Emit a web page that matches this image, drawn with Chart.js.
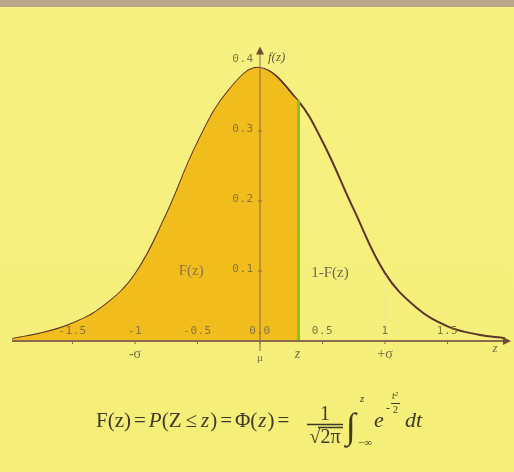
<!DOCTYPE html>
<html>
<head>
<meta charset="utf-8">
<script src="https://cdn.jsdelivr.net/npm/chart.js@4"></script>
<style>
  html, body { margin: 0; padding: 0; }
  body {
    width: 514px; height: 472px; overflow: hidden;
    background: linear-gradient(to bottom, #b8a78c 0px, #b8a78c 7px, #f7f182 7px, #f5ee78 100%);
  }
  #wrap { position: relative; width: 514px; height: 472px; }
</style>
</head>
<body>
<div id="wrap"><canvas id="grafico" width="514" height="472"></canvas></div>
<script>
// Curva (z, f(z))
const zValues = [-1.98, -1.75, -1.5, -1.25, -1, -0.75, -0.5, -0.25, 0, 0.3, 0.5, 0.75, 1, 1.25, 1.5, 1.75, 1.96];
const density = [0.003, 0.011, 0.025, 0.050, 0.095, 0.180, 0.283, 0.358, 0.390, 0.344, 0.285, 0.188, 0.097, 0.048, 0.021, 0.009, 0.004];
const zCut = 0.3;

// Etiquetas de los ejes
const xTickValues = [-1.5, -1, -0.5, 0, 0.5, 1, 1.5];
const xTickLabels = ['-1.5', '-1', '-0.5', '0.0', '0.5', '1', '1.5'];
const yTickValues = [0.1, 0.2, 0.3, 0.4];
const yTickLabels = ['0.1', '0.2', '0.3', '0.4'];
const markerValues = [-1, 0, 0.3, 1];
const markerLabels = ['-σ', 'μ', 'z', '+σ'];

const serif = '"Liberation Serif", "DejaVu Serif", serif';
const mono = '"DejaVu Sans Mono", "Liberation Mono", monospace';

const curvePoints = zValues.map((z, i) => ({ x: z, y: density[i] }));
const shadedPoints = curvePoints.filter(p => p.x <= zCut);
const cutValue = density[zValues.indexOf(zCut)];
const sigmaValue = density[zValues.indexOf(1)];
const minusSigmaValue = density[zValues.indexOf(-1)];

// Ejes, etiquetas y fórmula
const decorado = {
  id: 'decorado',
  afterDatasetsDraw(chart) {
    const ctx = chart.ctx;
    const xs = chart.scales.x, ys = chart.scales.y;
    const x0 = xs.getPixelForValue(0);
    const y0 = ys.getPixelForValue(0);
    const left = chart.chartArea.left, right = chart.chartArea.right;
    ctx.save();

    // eje x
    ctx.strokeStyle = '#8a6a48';
    ctx.fillStyle = '#6e4c34';
    ctx.lineWidth = 2;
    ctx.beginPath(); ctx.moveTo(left, y0); ctx.lineTo(right, y0); ctx.stroke();
    ctx.beginPath(); ctx.moveTo(right + 3, y0); ctx.lineTo(right - 5, y0 - 4); ctx.lineTo(right - 5, y0 + 4); ctx.closePath(); ctx.fill();

    // eje y
    const yTop = ys.getPixelForValue(0.415);
    ctx.lineWidth = 1;
    ctx.strokeStyle = '#8a6a48';
    ctx.beginPath(); ctx.moveTo(x0, y0 + 10); ctx.lineTo(x0, yTop); ctx.stroke();
    ctx.beginPath(); ctx.moveTo(x0, yTop - 4); ctx.lineTo(x0 - 4, yTop + 4); ctx.lineTo(x0 + 4, yTop + 4); ctx.closePath(); ctx.fill();

    // marcas y etiquetas del eje x
    ctx.font = '11px ' + mono;
    ctx.letterSpacing = '0.5px';
    ctx.fillStyle = '#86743e';
    ctx.textAlign = 'center';
    ctx.textBaseline = 'middle';
    xTickValues.forEach((v, i) => {
      const px = xs.getPixelForValue(v);
      ctx.strokeStyle = '#8a6a48';
      ctx.beginPath(); ctx.moveTo(px, y0); ctx.lineTo(px, y0 + 3); ctx.stroke();
      ctx.fillText(xTickLabels[i], px, y0 - 10);
    });

    // etiquetas del eje y
    yTickValues.forEach((v, i) => {
      const py = ys.getPixelForValue(v);
      ctx.fillText(yTickLabels[i], x0 - 17, py - 2);
      if (v < 0.4) {
        ctx.beginPath(); ctx.moveTo(x0 - 2, py); ctx.lineTo(x0 + 2, py); ctx.stroke();
      }
    });
    ctx.letterSpacing = '0px';

    // f(z)
    ctx.fillStyle = '#6b5a3a';
    ctx.textAlign = 'left';
    ctx.font = 'italic 13px ' + serif;
    ctx.fillText('f(z)', x0 + 8, ys.getPixelForValue(0.4) - 3);

    // marcas bajo el eje
    ctx.textAlign = 'center';
    ctx.fillStyle = '#7a6a4a';
    markerValues.forEach((v, i) => {
      const lab = markerLabels[i];
      ctx.font = (lab === 'z' ? 'italic ' : '') + (lab === 'μ' ? '11px ' : '14px ') + serif;
      ctx.fillText(lab, xs.getPixelForValue(v), y0 + (lab === 'μ' ? 17 : 13));
    });
    ctx.font = 'italic 13px ' + serif;
    ctx.fillText('z', right - 13, y0 + 8);

    // áreas
    ctx.font = '15px ' + serif;
    ctx.fillStyle = '#8e7548';
    ctx.fillText('F(z)', xs.getPixelForValue(-0.55), ys.getPixelForValue(0.1));
    ctx.fillStyle = '#6e6652';
    ctx.fillText('1-F(z)', xs.getPixelForValue(0.56), ys.getPixelForValue(0.1) + 2);

    // fórmula
    ctx.fillStyle = '#3f3a28';
    ctx.strokeStyle = '#3f3a28';
    ctx.textAlign = 'left';
    ctx.textBaseline = 'alphabetic';
    const base = 427;
    let cx = 96;
    const piezas = [
      ['F(z)', '', 3], ['=', '', 3], ['P', 'italic ', 0], ['(Z', '', 4], ['≤', '', 4], ['z', 'italic ', 1], [')', '', 3],
      ['=', '', 3], ['Φ(', '', 1], ['z', 'italic ', 1], [')', '', 3], ['=', '', 0]
    ];
    piezas.forEach(([t, st, gap]) => {
      ctx.font = st + '21px ' + serif;
      const w = ctx.measureText(t).width;
      ctx.fillText(t, cx, base);
      cx += w + gap;
    });
    // fracción 1/√2π
    ctx.textAlign = 'center';
    ctx.font = '20px ' + serif;
    ctx.fillText('1', 325, 420);
    ctx.lineWidth = 1.5;
    ctx.beginPath(); ctx.moveTo(307, 424.5); ctx.lineTo(343, 424.5); ctx.stroke();
    ctx.fillText('√2π', 325, 443);
    ctx.beginPath(); ctx.moveTo(318, 427.5); ctx.lineTo(343, 427.5); ctx.stroke();
    // integral
    ctx.textAlign = 'left';
    ctx.font = '36px ' + serif;
    ctx.fillText('∫', 346, 438);
    ctx.font = 'italic 11px ' + serif;
    ctx.fillText('z', 360, 402);
    ctx.font = '11px ' + serif;
    ctx.fillText('−∞', 358, 446);
    ctx.font = 'italic 22px ' + serif;
    ctx.fillText('e', 374, 427);
    ctx.font = '12px ' + serif;
    ctx.fillText('-', 386, 412);
    ctx.font = 'italic 10px ' + serif;
    ctx.fillText('t²', 392, 399);
    ctx.lineWidth = 1;
    ctx.beginPath(); ctx.moveTo(391, 403.5); ctx.lineTo(400, 403.5); ctx.stroke();
    ctx.font = '10px ' + serif;
    ctx.fillText('2', 393, 413);
    ctx.font = 'italic 22px ' + serif;
    ctx.fillText('dt', 405, 427);

    ctx.restore();
  }
};

const ctx = document.getElementById('grafico').getContext('2d');
const grafico = new Chart(ctx, {
  type: 'line',
  data: {
    datasets: [
      {
        label: 'F(z)',
        data: shadedPoints,
        fill: 'origin',
        backgroundColor: '#f1bd1c',
        borderWidth: 0,
        pointRadius: 0,
        tension: 0.4
      },
      {
        label: '-σ',
        data: [{ x: -1, y: 0 }, { x: -1, y: minusSigmaValue }],
        borderColor: '#b88a3a',
        borderWidth: 1,
        borderDash: [3, 4],
        pointRadius: 0,
        fill: false
      },
      {
        label: '+σ',
        data: [{ x: 1, y: 0 }, { x: 1, y: sigmaValue }],
        borderColor: '#e0e2ae',
        borderWidth: 1,
        borderDash: [3, 4],
        pointRadius: 0,
        fill: false
      },
      {
        label: 'z',
        data: [{ x: zCut, y: 0 }, { x: zCut, y: cutValue }],
        borderColor: '#86c020',
        borderWidth: 5,
        pointRadius: 0,
        fill: false
      },
      {
        label: 'f(z)',
        data: curvePoints,
        borderColor: '#5e3328',
        borderWidth: 2,
        pointRadius: 0,
        fill: false,
        tension: 0.4
      }
    ]
  },
  options: {
    responsive: false,
    animation: false,
    clip: false,
    layout: { padding: { left: 12, right: 6, top: 47, bottom: 131 } },
    plugins: { legend: { display: false }, tooltip: { enabled: false } },
    scales: {
      x: { type: 'linear', min: -1.984, max: 1.984, display: false },
      y: { min: 0, max: 0.42, display: false }
    }
  },
  plugins: [decorado]
});
</script>
</body>
</html>
